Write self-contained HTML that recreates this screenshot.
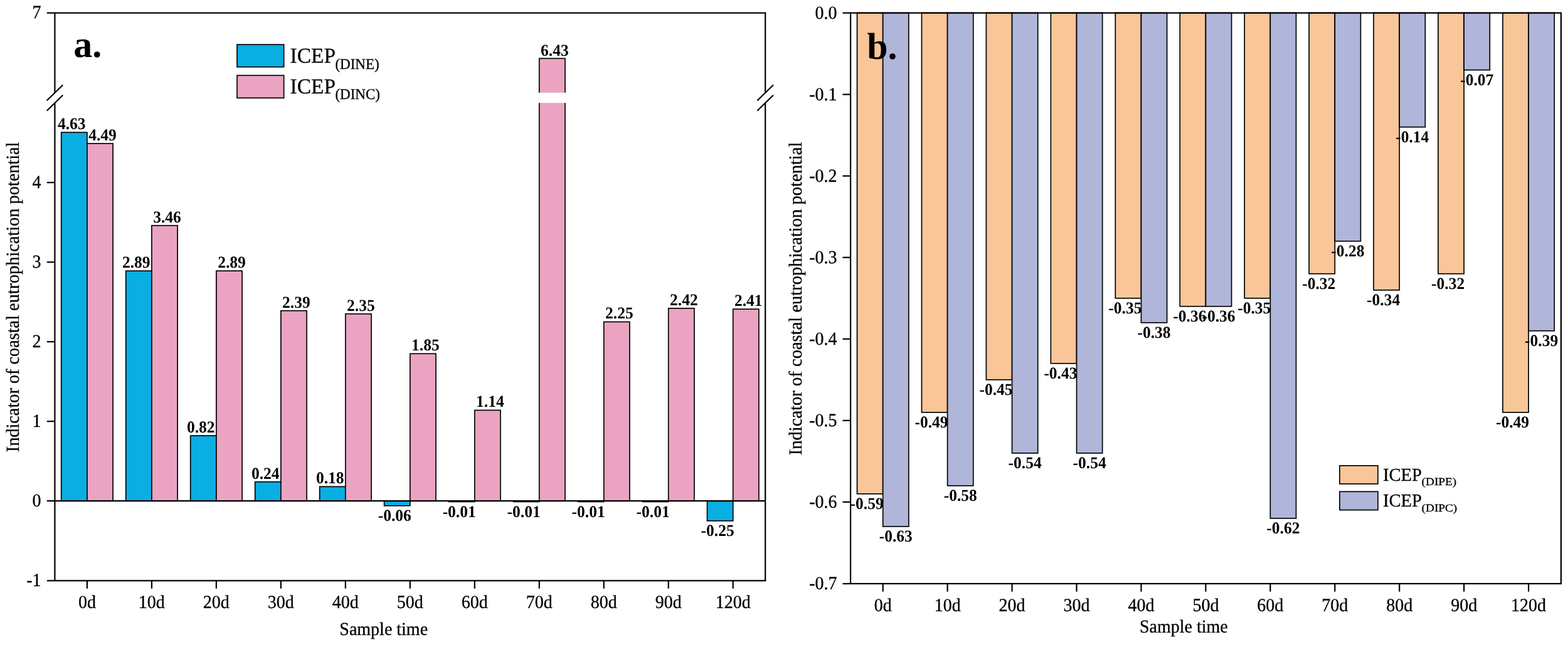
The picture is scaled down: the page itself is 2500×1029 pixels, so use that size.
<!DOCTYPE html>
<html><head><meta charset="utf-8"><title>ICEP chart</title>
<style>
html,body{margin:0;padding:0;background:#fff;}
svg{display:block;}
</style></head>
<body>
<svg width="2500" height="1029" viewBox="0 0 2500 1029" text-rendering="geometricPrecision">
<rect width="2500" height="1029" fill="#fff"/>
<rect x="97.7" y="211.19" width="41.19" height="588.01" fill="#09aee3" stroke="#000" stroke-width="1.7"/>
<rect x="138.89" y="228.97" width="41.19" height="570.23" fill="#eaa4c2" stroke="#000" stroke-width="1.7"/>
<rect x="200.68" y="432.17" width="41.19" height="367.03" fill="#09aee3" stroke="#000" stroke-width="1.7"/>
<rect x="241.87" y="359.78" width="41.19" height="439.42" fill="#eaa4c2" stroke="#000" stroke-width="1.7"/>
<rect x="303.66" y="695.06" width="41.19" height="104.14" fill="#09aee3" stroke="#000" stroke-width="1.7"/>
<rect x="344.85" y="432.17" width="41.19" height="367.03" fill="#eaa4c2" stroke="#000" stroke-width="1.7"/>
<rect x="406.64" y="768.72" width="41.19" height="30.48" fill="#09aee3" stroke="#000" stroke-width="1.7"/>
<rect x="447.84" y="495.67" width="41.19" height="303.53" fill="#eaa4c2" stroke="#000" stroke-width="1.7"/>
<rect x="509.63" y="776.34" width="41.19" height="22.86" fill="#09aee3" stroke="#000" stroke-width="1.7"/>
<rect x="550.82" y="500.75" width="41.19" height="298.45" fill="#eaa4c2" stroke="#000" stroke-width="1.7"/>
<rect x="612.61" y="799.2" width="41.19" height="7.62" fill="#09aee3" stroke="#000" stroke-width="1.7"/>
<rect x="653.8" y="564.25" width="41.19" height="234.95" fill="#eaa4c2" stroke="#000" stroke-width="1.7"/>
<rect x="715.59" y="799.2" width="41.19" height="1.27" fill="#09aee3" stroke="#000" stroke-width="1.7"/>
<rect x="756.78" y="654.42" width="41.19" height="144.78" fill="#eaa4c2" stroke="#000" stroke-width="1.7"/>
<rect x="818.57" y="799.2" width="41.19" height="1.27" fill="#09aee3" stroke="#000" stroke-width="1.7"/>
<rect x="859.76" y="93.25" width="41.19" height="705.95" fill="#eaa4c2" stroke="#000" stroke-width="1.7"/>
<rect x="921.55" y="799.2" width="41.19" height="1.27" fill="#09aee3" stroke="#000" stroke-width="1.7"/>
<rect x="962.75" y="513.45" width="41.19" height="285.75" fill="#eaa4c2" stroke="#000" stroke-width="1.7"/>
<rect x="1024.53" y="799.2" width="41.19" height="1.27" fill="#09aee3" stroke="#000" stroke-width="1.7"/>
<rect x="1065.73" y="491.86" width="41.19" height="307.34" fill="#eaa4c2" stroke="#000" stroke-width="1.7"/>
<rect x="1127.52" y="799.2" width="41.19" height="31.75" fill="#09aee3" stroke="#000" stroke-width="1.7"/>
<rect x="1168.71" y="493.13" width="41.19" height="306.07" fill="#eaa4c2" stroke="#000" stroke-width="1.7"/>
<rect x="856.76" y="147.8" width="47.19" height="16.4" fill="#fff"/>
<line x1="74.8" y1="799.2" x2="1220.2" y2="799.2" stroke="#000" stroke-width="2.2"/>
<line x1="74.8" y1="20.6" x2="1221.3" y2="20.6" stroke="#000" stroke-width="2.2"/>
<line x1="74.8" y1="926.3" x2="1221.3" y2="926.3" stroke="#000" stroke-width="2.2"/>
<line x1="87.4" y1="20.6" x2="87.4" y2="148" stroke="#000" stroke-width="2.2"/>
<line x1="87.4" y1="164.5" x2="87.4" y2="926.3" stroke="#000" stroke-width="2.2"/>
<line x1="1220.2" y1="20.6" x2="1220.2" y2="148" stroke="#000" stroke-width="2.2"/>
<line x1="1220.2" y1="164.5" x2="1220.2" y2="926.3" stroke="#000" stroke-width="2.2"/>
<line x1="74.6" y1="160.5" x2="100.2" y2="135.5" stroke="#000" stroke-width="2.2"/>
<line x1="74.6" y1="176.7" x2="100.2" y2="151.7" stroke="#000" stroke-width="2.2"/>
<line x1="1207.4" y1="160.5" x2="1233" y2="135.5" stroke="#000" stroke-width="2.2"/>
<line x1="1207.4" y1="176.7" x2="1233" y2="151.7" stroke="#000" stroke-width="2.2"/>
<line x1="74.8" y1="291.2" x2="87.4" y2="291.2" stroke="#000" stroke-width="2.2"/>
<line x1="74.8" y1="418.2" x2="87.4" y2="418.2" stroke="#000" stroke-width="2.2"/>
<line x1="74.8" y1="545.2" x2="87.4" y2="545.2" stroke="#000" stroke-width="2.2"/>
<line x1="74.8" y1="672.2" x2="87.4" y2="672.2" stroke="#000" stroke-width="2.2"/>
<line x1="138.89" y1="926.3" x2="138.89" y2="938.9" stroke="#000" stroke-width="2.2"/>
<line x1="241.87" y1="926.3" x2="241.87" y2="938.9" stroke="#000" stroke-width="2.2"/>
<line x1="344.85" y1="926.3" x2="344.85" y2="938.9" stroke="#000" stroke-width="2.2"/>
<line x1="447.84" y1="926.3" x2="447.84" y2="938.9" stroke="#000" stroke-width="2.2"/>
<line x1="550.82" y1="926.3" x2="550.82" y2="938.9" stroke="#000" stroke-width="2.2"/>
<line x1="653.8" y1="926.3" x2="653.8" y2="938.9" stroke="#000" stroke-width="2.2"/>
<line x1="756.78" y1="926.3" x2="756.78" y2="938.9" stroke="#000" stroke-width="2.2"/>
<line x1="859.76" y1="926.3" x2="859.76" y2="938.9" stroke="#000" stroke-width="2.2"/>
<line x1="962.75" y1="926.3" x2="962.75" y2="938.9" stroke="#000" stroke-width="2.2"/>
<line x1="1065.73" y1="926.3" x2="1065.73" y2="938.9" stroke="#000" stroke-width="2.2"/>
<line x1="1168.71" y1="926.3" x2="1168.71" y2="938.9" stroke="#000" stroke-width="2.2"/>
<rect x="1366.55" y="20.6" width="41.15" height="767.29" fill="#f8c699" stroke="#000" stroke-width="1.7"/>
<rect x="1407.7" y="20.6" width="41.15" height="819.32" fill="#b0b6da" stroke="#000" stroke-width="1.7"/>
<rect x="1469.49" y="20.6" width="41.15" height="637.25" fill="#f8c699" stroke="#000" stroke-width="1.7"/>
<rect x="1510.64" y="20.6" width="41.15" height="754.29" fill="#b0b6da" stroke="#000" stroke-width="1.7"/>
<rect x="1572.43" y="20.6" width="41.15" height="585.23" fill="#f8c699" stroke="#000" stroke-width="1.7"/>
<rect x="1613.58" y="20.6" width="41.15" height="702.27" fill="#b0b6da" stroke="#000" stroke-width="1.7"/>
<rect x="1675.37" y="20.6" width="41.15" height="559.22" fill="#f8c699" stroke="#000" stroke-width="1.7"/>
<rect x="1716.52" y="20.6" width="41.15" height="702.27" fill="#b0b6da" stroke="#000" stroke-width="1.7"/>
<rect x="1778.31" y="20.6" width="41.15" height="455.17" fill="#f8c699" stroke="#000" stroke-width="1.7"/>
<rect x="1819.46" y="20.6" width="41.15" height="494.19" fill="#b0b6da" stroke="#000" stroke-width="1.7"/>
<rect x="1881.25" y="20.6" width="41.15" height="468.18" fill="#f8c699" stroke="#000" stroke-width="1.7"/>
<rect x="1922.4" y="20.6" width="41.15" height="468.18" fill="#b0b6da" stroke="#000" stroke-width="1.7"/>
<rect x="1984.19" y="20.6" width="41.15" height="455.17" fill="#f8c699" stroke="#000" stroke-width="1.7"/>
<rect x="2025.34" y="20.6" width="41.15" height="806.31" fill="#b0b6da" stroke="#000" stroke-width="1.7"/>
<rect x="2087.13" y="20.6" width="41.15" height="416.16" fill="#f8c699" stroke="#000" stroke-width="1.7"/>
<rect x="2128.28" y="20.6" width="41.15" height="364.14" fill="#b0b6da" stroke="#000" stroke-width="1.7"/>
<rect x="2190.07" y="20.6" width="41.15" height="442.17" fill="#f8c699" stroke="#000" stroke-width="1.7"/>
<rect x="2231.22" y="20.6" width="41.15" height="182.07" fill="#b0b6da" stroke="#000" stroke-width="1.7"/>
<rect x="2293.01" y="20.6" width="41.15" height="416.16" fill="#f8c699" stroke="#000" stroke-width="1.7"/>
<rect x="2334.16" y="20.6" width="41.15" height="91.04" fill="#b0b6da" stroke="#000" stroke-width="1.7"/>
<rect x="2395.95" y="20.6" width="41.15" height="637.25" fill="#f8c699" stroke="#000" stroke-width="1.7"/>
<rect x="2437.1" y="20.6" width="41.15" height="507.19" fill="#b0b6da" stroke="#000" stroke-width="1.7"/>
<line x1="1343.5" y1="20.6" x2="2490" y2="20.6" stroke="#000" stroke-width="2.2"/>
<line x1="1356.1" y1="931.2" x2="2490" y2="931.2" stroke="#000" stroke-width="2.2"/>
<line x1="1343.5" y1="931.2" x2="1356.1" y2="931.2" stroke="#000" stroke-width="2.2"/>
<line x1="1356.1" y1="20.6" x2="1356.1" y2="931.2" stroke="#000" stroke-width="2.2"/>
<line x1="2488.9" y1="20.6" x2="2488.9" y2="931.2" stroke="#000" stroke-width="2.2"/>
<line x1="1343.5" y1="150.65" x2="1356.1" y2="150.65" stroke="#000" stroke-width="2.2"/>
<line x1="1343.5" y1="280.7" x2="1356.1" y2="280.7" stroke="#000" stroke-width="2.2"/>
<line x1="1343.5" y1="410.75" x2="1356.1" y2="410.75" stroke="#000" stroke-width="2.2"/>
<line x1="1343.5" y1="540.8" x2="1356.1" y2="540.8" stroke="#000" stroke-width="2.2"/>
<line x1="1343.5" y1="670.85" x2="1356.1" y2="670.85" stroke="#000" stroke-width="2.2"/>
<line x1="1343.5" y1="800.9" x2="1356.1" y2="800.9" stroke="#000" stroke-width="2.2"/>
<line x1="1407.7" y1="931.2" x2="1407.7" y2="943.8" stroke="#000" stroke-width="2.2"/>
<line x1="1510.64" y1="931.2" x2="1510.64" y2="943.8" stroke="#000" stroke-width="2.2"/>
<line x1="1613.58" y1="931.2" x2="1613.58" y2="943.8" stroke="#000" stroke-width="2.2"/>
<line x1="1716.52" y1="931.2" x2="1716.52" y2="943.8" stroke="#000" stroke-width="2.2"/>
<line x1="1819.46" y1="931.2" x2="1819.46" y2="943.8" stroke="#000" stroke-width="2.2"/>
<line x1="1922.4" y1="931.2" x2="1922.4" y2="943.8" stroke="#000" stroke-width="2.2"/>
<line x1="2025.34" y1="931.2" x2="2025.34" y2="943.8" stroke="#000" stroke-width="2.2"/>
<line x1="2128.28" y1="931.2" x2="2128.28" y2="943.8" stroke="#000" stroke-width="2.2"/>
<line x1="2231.22" y1="931.2" x2="2231.22" y2="943.8" stroke="#000" stroke-width="2.2"/>
<line x1="2334.16" y1="931.2" x2="2334.16" y2="943.8" stroke="#000" stroke-width="2.2"/>
<line x1="2437.1" y1="931.2" x2="2437.1" y2="943.8" stroke="#000" stroke-width="2.2"/>
<g font-family="'Liberation Serif','Times New Roman',serif" fill="#000">
<text transform="translate(65.5,29.1) scale(1.0,1.05)" font-size="28" text-anchor="end" font-weight="normal" stroke="#000" stroke-width="0.3">7</text>
<text transform="translate(65.5,299.7) scale(1.0,1.05)" font-size="28" text-anchor="end" font-weight="normal" stroke="#000" stroke-width="0.3">4</text>
<text transform="translate(65.5,426.7) scale(1.0,1.05)" font-size="28" text-anchor="end" font-weight="normal" stroke="#000" stroke-width="0.3">3</text>
<text transform="translate(65.5,553.7) scale(1.0,1.05)" font-size="28" text-anchor="end" font-weight="normal" stroke="#000" stroke-width="0.3">2</text>
<text transform="translate(65.5,680.7) scale(1.0,1.05)" font-size="28" text-anchor="end" font-weight="normal" stroke="#000" stroke-width="0.3">1</text>
<text transform="translate(65.5,807.7) scale(1.0,1.05)" font-size="28" text-anchor="end" font-weight="normal" stroke="#000" stroke-width="0.3">0</text>
<text transform="translate(65.5,934.7) scale(1.0,1.05)" font-size="28" text-anchor="end" font-weight="normal" stroke="#000" stroke-width="0.3">-1</text>
<text transform="translate(138.89,969.6) scale(1.0,1.05)" font-size="28" text-anchor="middle" font-weight="normal" stroke="#000" stroke-width="0.3">0d</text>
<text transform="translate(241.87,969.6) scale(1.0,1.05)" font-size="28" text-anchor="middle" font-weight="normal" stroke="#000" stroke-width="0.3">10d</text>
<text transform="translate(344.85,969.6) scale(1.0,1.05)" font-size="28" text-anchor="middle" font-weight="normal" stroke="#000" stroke-width="0.3">20d</text>
<text transform="translate(447.84,969.6) scale(1.0,1.05)" font-size="28" text-anchor="middle" font-weight="normal" stroke="#000" stroke-width="0.3">30d</text>
<text transform="translate(550.82,969.6) scale(1.0,1.05)" font-size="28" text-anchor="middle" font-weight="normal" stroke="#000" stroke-width="0.3">40d</text>
<text transform="translate(653.8,969.6) scale(1.0,1.05)" font-size="28" text-anchor="middle" font-weight="normal" stroke="#000" stroke-width="0.3">50d</text>
<text transform="translate(756.78,969.6) scale(1.0,1.05)" font-size="28" text-anchor="middle" font-weight="normal" stroke="#000" stroke-width="0.3">60d</text>
<text transform="translate(859.76,969.6) scale(1.0,1.05)" font-size="28" text-anchor="middle" font-weight="normal" stroke="#000" stroke-width="0.3">70d</text>
<text transform="translate(962.75,969.6) scale(1.0,1.05)" font-size="28" text-anchor="middle" font-weight="normal" stroke="#000" stroke-width="0.3">80d</text>
<text transform="translate(1065.73,969.6) scale(1.0,1.05)" font-size="28" text-anchor="middle" font-weight="normal" stroke="#000" stroke-width="0.3">90d</text>
<text transform="translate(1168.71,969.6) scale(1.0,1.05)" font-size="28" text-anchor="middle" font-weight="normal" stroke="#000" stroke-width="0.3">120d</text>
<text transform="translate(611.7,1012.8) scale(1.0,1.04)" font-size="28" text-anchor="middle" font-weight="normal" stroke="#000" stroke-width="0.3">Sample time</text>
<text transform="translate(30.3,473.9) rotate(-90) scale(1.01,1.05)" font-size="28" text-anchor="middle" stroke="#000" stroke-width="0.3">Indicator of coastal eutrophication potential</text>
<text transform="translate(1334.6,29.5) scale(1.0,1.05)" font-size="28" text-anchor="end" font-weight="normal" stroke="#000" stroke-width="0.3">0.0</text>
<text transform="translate(1334.6,159.55) scale(1.0,1.05)" font-size="28" text-anchor="end" font-weight="normal" stroke="#000" stroke-width="0.3">-0.1</text>
<text transform="translate(1334.6,289.6) scale(1.0,1.05)" font-size="28" text-anchor="end" font-weight="normal" stroke="#000" stroke-width="0.3">-0.2</text>
<text transform="translate(1334.6,419.65) scale(1.0,1.05)" font-size="28" text-anchor="end" font-weight="normal" stroke="#000" stroke-width="0.3">-0.3</text>
<text transform="translate(1334.6,549.7) scale(1.0,1.05)" font-size="28" text-anchor="end" font-weight="normal" stroke="#000" stroke-width="0.3">-0.4</text>
<text transform="translate(1334.6,679.75) scale(1.0,1.05)" font-size="28" text-anchor="end" font-weight="normal" stroke="#000" stroke-width="0.3">-0.5</text>
<text transform="translate(1334.6,809.8) scale(1.0,1.05)" font-size="28" text-anchor="end" font-weight="normal" stroke="#000" stroke-width="0.3">-0.6</text>
<text transform="translate(1334.6,939.85) scale(1.0,1.05)" font-size="28" text-anchor="end" font-weight="normal" stroke="#000" stroke-width="0.3">-0.7</text>
<text transform="translate(1407.7,974.6) scale(1.0,1.05)" font-size="28" text-anchor="middle" font-weight="normal" stroke="#000" stroke-width="0.3">0d</text>
<text transform="translate(1510.64,974.6) scale(1.0,1.05)" font-size="28" text-anchor="middle" font-weight="normal" stroke="#000" stroke-width="0.3">10d</text>
<text transform="translate(1613.58,974.6) scale(1.0,1.05)" font-size="28" text-anchor="middle" font-weight="normal" stroke="#000" stroke-width="0.3">20d</text>
<text transform="translate(1716.52,974.6) scale(1.0,1.05)" font-size="28" text-anchor="middle" font-weight="normal" stroke="#000" stroke-width="0.3">30d</text>
<text transform="translate(1819.46,974.6) scale(1.0,1.05)" font-size="28" text-anchor="middle" font-weight="normal" stroke="#000" stroke-width="0.3">40d</text>
<text transform="translate(1922.4,974.6) scale(1.0,1.05)" font-size="28" text-anchor="middle" font-weight="normal" stroke="#000" stroke-width="0.3">50d</text>
<text transform="translate(2025.34,974.6) scale(1.0,1.05)" font-size="28" text-anchor="middle" font-weight="normal" stroke="#000" stroke-width="0.3">60d</text>
<text transform="translate(2128.28,974.6) scale(1.0,1.05)" font-size="28" text-anchor="middle" font-weight="normal" stroke="#000" stroke-width="0.3">70d</text>
<text transform="translate(2231.22,974.6) scale(1.0,1.05)" font-size="28" text-anchor="middle" font-weight="normal" stroke="#000" stroke-width="0.3">80d</text>
<text transform="translate(2334.16,974.6) scale(1.0,1.05)" font-size="28" text-anchor="middle" font-weight="normal" stroke="#000" stroke-width="0.3">90d</text>
<text transform="translate(2437.1,974.6) scale(1.0,1.05)" font-size="28" text-anchor="middle" font-weight="normal" stroke="#000" stroke-width="0.3">120d</text>
<text transform="translate(1887.3,1009.3) scale(1.0,1.04)" font-size="28" text-anchor="middle" font-weight="normal" stroke="#000" stroke-width="0.3">Sample time</text>
<text transform="translate(1277.9,476.4) rotate(-90) scale(1.02,1.05)" font-size="28" text-anchor="middle" stroke="#000" stroke-width="0.3">Indicator of coastal eutrophication potential</text>
<text transform="translate(114.29,206.19) scale(1,1.04)" font-size="25.5" text-anchor="middle" font-weight="bold">4.63</text>
<text transform="translate(163.49,223.97) scale(1,1.04)" font-size="25.5" text-anchor="middle" font-weight="bold">4.49</text>
<text transform="translate(217.28,427.17) scale(1,1.04)" font-size="25.5" text-anchor="middle" font-weight="bold">2.89</text>
<text transform="translate(266.47,354.78) scale(1,1.04)" font-size="25.5" text-anchor="middle" font-weight="bold">3.46</text>
<text transform="translate(320.26,690.06) scale(1,1.04)" font-size="25.5" text-anchor="middle" font-weight="bold">0.82</text>
<text transform="translate(369.45,427.17) scale(1,1.04)" font-size="25.5" text-anchor="middle" font-weight="bold">2.89</text>
<text transform="translate(423.24,763.72) scale(1,1.04)" font-size="25.5" text-anchor="middle" font-weight="bold">0.24</text>
<text transform="translate(472.43,490.67) scale(1,1.04)" font-size="25.5" text-anchor="middle" font-weight="bold">2.39</text>
<text transform="translate(526.22,771.34) scale(1,1.04)" font-size="25.5" text-anchor="middle" font-weight="bold">0.18</text>
<text transform="translate(575.41,495.75) scale(1,1.04)" font-size="25.5" text-anchor="middle" font-weight="bold">2.35</text>
<text transform="translate(629.2,830.82) scale(1,1.04)" font-size="25.5" text-anchor="middle" font-weight="bold">-0.06</text>
<text transform="translate(678.4,559.25) scale(1,1.04)" font-size="25.5" text-anchor="middle" font-weight="bold">1.85</text>
<text transform="translate(732.19,825.47) scale(1,1.04)" font-size="25.5" text-anchor="middle" font-weight="bold">-0.01</text>
<text transform="translate(781.38,649.42) scale(1,1.04)" font-size="25.5" text-anchor="middle" font-weight="bold">1.14</text>
<text transform="translate(835.17,825.47) scale(1,1.04)" font-size="25.5" text-anchor="middle" font-weight="bold">-0.01</text>
<text transform="translate(884.36,88.5) scale(1,1.04)" font-size="25.5" text-anchor="middle" font-weight="bold">6.43</text>
<text transform="translate(938.15,825.47) scale(1,1.04)" font-size="25.5" text-anchor="middle" font-weight="bold">-0.01</text>
<text transform="translate(987.34,508.45) scale(1,1.04)" font-size="25.5" text-anchor="middle" font-weight="bold">2.25</text>
<text transform="translate(1041.13,825.47) scale(1,1.04)" font-size="25.5" text-anchor="middle" font-weight="bold">-0.01</text>
<text transform="translate(1090.32,486.86) scale(1,1.04)" font-size="25.5" text-anchor="middle" font-weight="bold">2.42</text>
<text transform="translate(1144.11,854.95) scale(1,1.04)" font-size="25.5" text-anchor="middle" font-weight="bold">-0.25</text>
<text transform="translate(1193.31,488.13) scale(1,1.04)" font-size="25.5" text-anchor="middle" font-weight="bold">2.41</text>
<text transform="translate(1382.12,812.19) scale(1,1.04)" font-size="25.5" text-anchor="middle" font-weight="bold">-0.59</text>
<text transform="translate(1428.28,864.22) scale(1,1.04)" font-size="25.5" text-anchor="middle" font-weight="bold">-0.63</text>
<text transform="translate(1485.07,682.14) scale(1,1.04)" font-size="25.5" text-anchor="middle" font-weight="bold">-0.49</text>
<text transform="translate(1531.22,799.19) scale(1,1.04)" font-size="25.5" text-anchor="middle" font-weight="bold">-0.58</text>
<text transform="translate(1588,630.12) scale(1,1.04)" font-size="25.5" text-anchor="middle" font-weight="bold">-0.45</text>
<text transform="translate(1634.15,747.17) scale(1,1.04)" font-size="25.5" text-anchor="middle" font-weight="bold">-0.54</text>
<text transform="translate(1690.94,604.12) scale(1,1.04)" font-size="25.5" text-anchor="middle" font-weight="bold">-0.43</text>
<text transform="translate(1737.1,747.17) scale(1,1.04)" font-size="25.5" text-anchor="middle" font-weight="bold">-0.54</text>
<text transform="translate(1793.88,500.07) scale(1,1.04)" font-size="25.5" text-anchor="middle" font-weight="bold">-0.35</text>
<text transform="translate(1840.04,539.09) scale(1,1.04)" font-size="25.5" text-anchor="middle" font-weight="bold">-0.38</text>
<text transform="translate(1896.83,513.08) scale(1,1.04)" font-size="25.5" text-anchor="middle" font-weight="bold">-0.36</text>
<text transform="translate(1942.98,513.08) scale(1,1.04)" font-size="25.5" text-anchor="middle" font-weight="bold">-0.36</text>
<text transform="translate(1999.77,500.07) scale(1,1.04)" font-size="25.5" text-anchor="middle" font-weight="bold">-0.35</text>
<text transform="translate(2045.92,851.21) scale(1,1.04)" font-size="25.5" text-anchor="middle" font-weight="bold">-0.62</text>
<text transform="translate(2102.7,461.06) scale(1,1.04)" font-size="25.5" text-anchor="middle" font-weight="bold">-0.32</text>
<text transform="translate(2148.85,409.04) scale(1,1.04)" font-size="25.5" text-anchor="middle" font-weight="bold">-0.28</text>
<text transform="translate(2205.65,487.07) scale(1,1.04)" font-size="25.5" text-anchor="middle" font-weight="bold">-0.34</text>
<text transform="translate(2251.8,226.97) scale(1,1.04)" font-size="25.5" text-anchor="middle" font-weight="bold">-0.14</text>
<text transform="translate(2308.59,461.06) scale(1,1.04)" font-size="25.5" text-anchor="middle" font-weight="bold">-0.32</text>
<text transform="translate(2354.73,135.94) scale(1,1.04)" font-size="25.5" text-anchor="middle" font-weight="bold">-0.07</text>
<text transform="translate(2411.53,682.14) scale(1,1.04)" font-size="25.5" text-anchor="middle" font-weight="bold">-0.49</text>
<text transform="translate(2457.68,552.09) scale(1,1.04)" font-size="25.5" text-anchor="middle" font-weight="bold">-0.39</text>
<text transform="translate(117.3,91.1) scale(1,1.0)" font-size="60" font-weight="bold">a.</text>
<text transform="translate(1382.2,93.6) scale(1,1.0)" font-size="60" font-weight="bold">b.</text>
</g>
<rect x="378" y="71.1" width="74.6" height="35.7" fill="#09aee3" stroke="#000" stroke-width="1.7"/>
<rect x="378" y="120.3" width="74.6" height="36" fill="#eaa4c2" stroke="#000" stroke-width="1.7"/>
<g font-family="'Liberation Serif','Times New Roman',serif">
<text transform="translate(462.6,100.3) scale(1.0,1.02)" font-size="33.4" text-anchor="start" font-weight="normal" stroke="#000" stroke-width="0.3">ICEP</text>
<text transform="translate(534.4,109.5) scale(1.0,1.04)" font-size="23" text-anchor="start" font-weight="normal" stroke="#000" stroke-width="0.3">(DINE)</text>
<text transform="translate(462.6,149.2) scale(1.0,1.02)" font-size="33.4" text-anchor="start" font-weight="normal" stroke="#000" stroke-width="0.3">ICEP</text>
<text transform="translate(534.4,158.4) scale(1.0,1.04)" font-size="23" text-anchor="start" font-weight="normal" stroke="#000" stroke-width="0.3">(DINC)</text>
</g>
<rect x="2135.9" y="742.9" width="61" height="29.1" fill="#f8c699" stroke="#000" stroke-width="1.7"/>
<rect x="2135.9" y="784.3" width="61" height="29.3" fill="#b0b6da" stroke="#000" stroke-width="1.7"/>
<g font-family="'Liberation Serif','Times New Roman',serif">
<text transform="translate(2205,766.7) scale(0.985,1.0)" font-size="29" text-anchor="start" font-weight="normal" stroke="#000" stroke-width="0.3">ICEP</text>
<text transform="translate(2266.6,774.3) scale(1.12,1.0)" font-size="17.2" text-anchor="start" font-weight="normal" stroke="#000" stroke-width="0.3">(DIPE)</text>
<text transform="translate(2205,808.4) scale(0.985,1.0)" font-size="29" text-anchor="start" font-weight="normal" stroke="#000" stroke-width="0.3">ICEP</text>
<text transform="translate(2266.6,815.8) scale(1.12,1.0)" font-size="17.2" text-anchor="start" font-weight="normal" stroke="#000" stroke-width="0.3">(DIPC)</text>
</g>
</svg>
</body></html>
